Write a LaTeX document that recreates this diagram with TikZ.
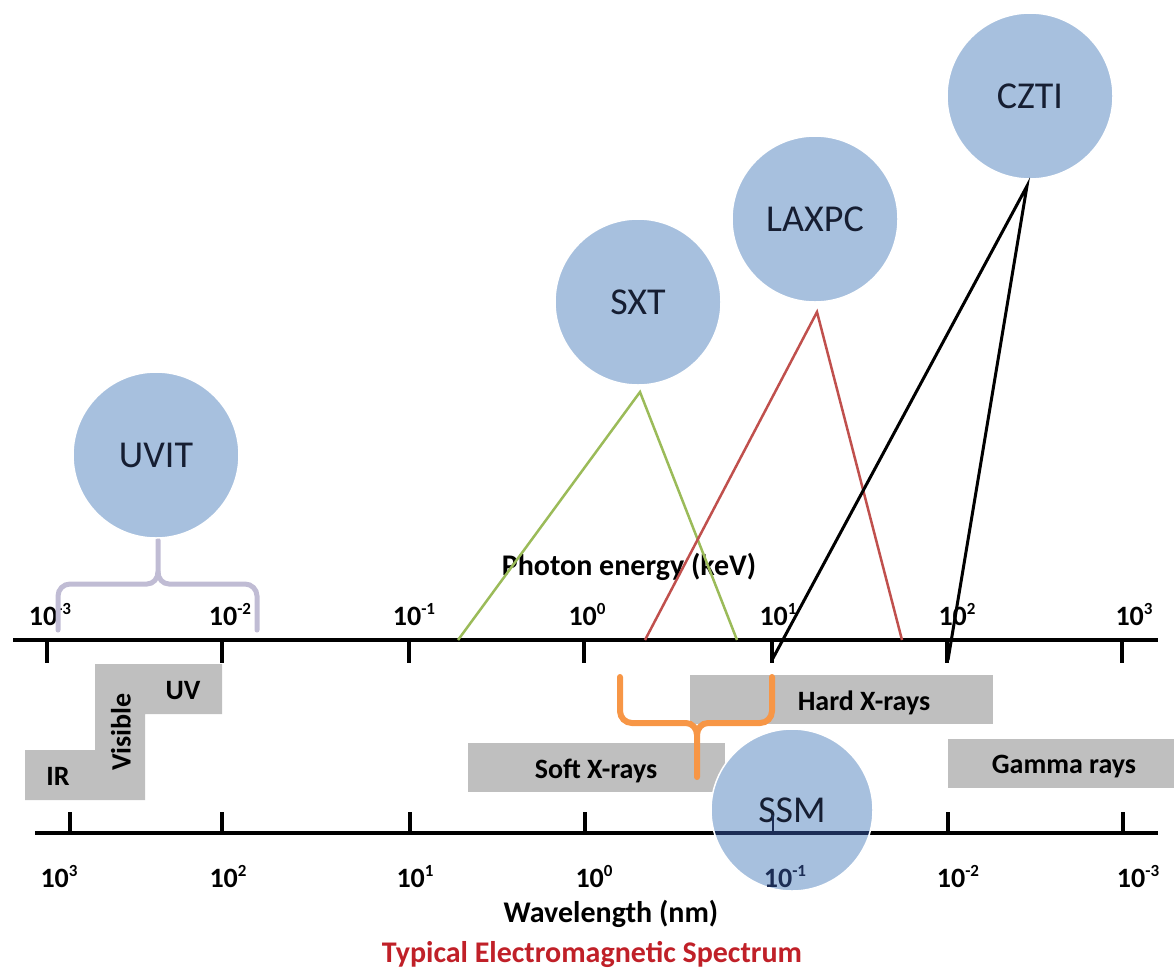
\documentclass[tikz,border=0pt]{standalone}
\usepackage{fontspec}
\setmainfont{Carlito}
\definecolor{instblue}{RGB}{167,192,222}
\definecolor{insttext}{RGB}{22,30,50}
\definecolor{boxgrey}{RGB}{191,191,191}
\definecolor{sxtgreen}{RGB}{155,187,89}
\definecolor{laxred}{RGB}{192,80,77}
\definecolor{ssmorange}{RGB}{247,150,70}
\definecolor{uvitbr}{RGB}{192,188,212}
\definecolor{navyline}{RGB}{28,45,85}
\definecolor{titlered}{RGB}{192,32,40}
\newcommand\mysup[1]{\raisebox{0.36em}{\fontsize{17}{17}\selectfont #1}}
\begin{document}
\begin{tikzpicture}[x=1pt,y=-1pt,
  lbl/.style={font=\bfseries\fontsize{28}{30}\selectfont, inner sep=0pt, anchor=base},
  inst/.style={circle, fill=instblue, draw=white, line width=1.5pt, minimum size=166pt, inner sep=0pt, font=\fontsize{38}{40}\selectfont, text=insttext},
  axisline/.style={line width=3.5pt},
  tickline/.style={line width=4pt},
  greybox/.style={fill=boxgrey},
  conn/.style={line width=2.5pt},
  brace/.style={line width=5pt, line cap=round}]
\useasboundingbox (0,0) rectangle (1174,970);

% grey band boxes
\fill[greybox] (25,750) -- (95,750) -- (95,664) -- (222,664) -- (222,714) -- (145,714) -- (145,800) -- (25,800) -- cycle;
\fill[greybox] (468,743) rectangle (725,792);
\fill[greybox] (690,675) rectangle (993,724);
\fill[greybox] (948,739) rectangle (1174,788);
\node[lbl] (ir) at (58,785) {IR};
\node[lbl, anchor=center, rotate=90] (vis) at (121,732) {Visible};
\node[lbl] (uv) at (183,699) {UV};
\node[lbl] (soft) at (596,778) {Soft X-rays};
\node[lbl] (hard) at (864,710) {Hard X-rays};
\node[lbl] (gamma) at (1064,773) {Gamma rays};

% top axis (photon energy)
\draw[axisline] (13,640) -- (1158,640);
\foreach \x in {47,222,409,584,772,947,1122} \draw[tickline] (\x,640) -- (\x,663);
\node[lbl] (e1) at (50,625) {10\mysup{-3}};
\node[lbl] (e2) at (230,625) {10\mysup{-2}};
\node[lbl] (e3) at (414,625) {10\mysup{-1}};
\node[lbl] (e4) at (587,625) {10\mysup{0}};
\node[lbl] (e5) at (778,625) {10\mysup{1}};
\node[lbl] (e6) at (957,625) {10\mysup{2}};
\node[lbl] (e7) at (1134,625) {10\mysup{3}};
\node[lbl, font=\bfseries\fontsize{30}{32}\selectfont] (pe) at (629,575) {Photon energy (keV)};

% bottom axis (wavelength)
\draw[axisline] (35,833) -- (1158,833);
\foreach \x in {70,222,410,585,773,948,1123} \draw[tickline] (\x,812) -- (\x,833);
\node[lbl] (w1) at (59,887) {10\mysup{3}};
\node[lbl] (w2) at (228,887) {10\mysup{2}};
\node[lbl] (w3) at (415,887) {10\mysup{1}};
\node[lbl] (w4) at (594,887) {10\mysup{0}};
\node[lbl] (w6) at (958,887) {10\mysup{-2}};
\node[lbl] (w7) at (1138,887) {10\mysup{-3}};
\node[lbl, font=\bfseries\fontsize{30}{32}\selectfont] (wl) at (611,922) {Wavelength (nm)};
\node[lbl, font=\bfseries\fontsize{30}{32}\selectfont, text=titlered] (title) at (592,962) {Typical Electromagnetic Spectrum};

% UVIT brace
\coordinate (ubL) at (58,630);
\coordinate (ubR) at (257,630);
\coordinate (ubM) at (158,572);
\draw[brace, uvitbr] (ubL) -- (58,596) to[out=90,in=180] (70,584) -- (147,584) to[out=0,in=-90] (ubM) -- (158,540);
\draw[brace, uvitbr] (ubM) to[out=-90,in=180] (169,584) -- (245,584) to[out=0,in=90] (257,596) -- (ubR);

% SSM brace
\coordinate (obL) at (620,677);
\coordinate (obR) at (772,677);
\coordinate (obM) at (697,735);
\coordinate (obT) at (697,777);
\draw[brace, ssmorange, line width=6pt] (obL) -- (620,711) to[out=-90,in=180] (632,723) -- (686,723) to[out=0,in=90] (obM) -- (obT);
\draw[brace, ssmorange, line width=6pt] (obM) to[out=90,in=180] (708,723) -- (760,723) to[out=0,in=-90] (772,711) -- (obR);

% instrument circles
\node[inst] (uvit) at (156,455) {UVIT};
\node[inst] (sxt) at (638,302) {SXT};
\node[inst] (laxpc) at (815,219) {LAXPC};
\node[inst] (czti) at (1030,96) {CZTI};

% connectors
\coordinate (sxtA) at (640,392);
\coordinate (sxtL) at (458,640);
\coordinate (sxtR) at (737,640);
\draw[conn, sxtgreen] (sxtL) -- (sxtA) -- (sxtR);
\coordinate (laxA) at (817,312);
\coordinate (laxL) at (645,640);
\coordinate (laxR) at (902,640);
\draw[conn, laxred] (laxL) -- (laxA) -- (laxR);
\coordinate (czA) at (1027,186);
\coordinate (czL) at (772,660);
\coordinate (czR) at (948,660);
\draw[conn, black, line width=3pt] (czL) -- (czA) -- (czR);

% SSM circle over the wavelength axis
\node[inst, minimum size=162pt] (ssm) at (792,810) {SSM};
\begin{scope}
  \clip (792,810) circle (80);
  \draw[axisline, navyline] (35,833) -- (1158,833);
  \draw[tickline, navyline, line width=2.5pt] (773,815) -- (773,833);
\end{scope}
\node[lbl, text=navyline] (w5) at (785,887) {10\mysup{-1}};
\end{tikzpicture}
\end{document}
